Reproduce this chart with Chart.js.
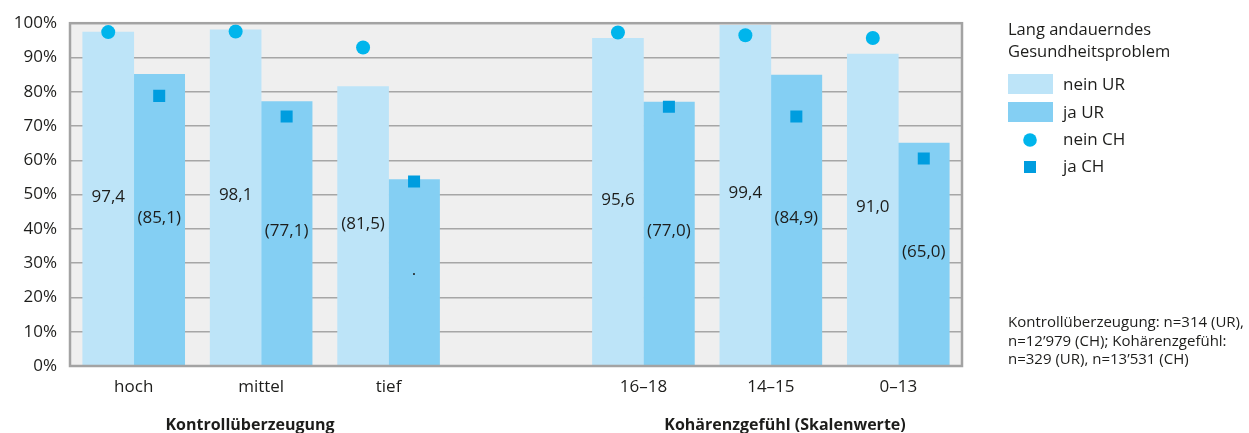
<!DOCTYPE html>
<html>
<head>
<meta charset="utf-8">
<script src="https://cdn.jsdelivr.net/npm/chart.js@4.4.1/dist/chart.umd.min.js"></script>
<style>
  html, body { margin: 0; padding: 0; background: #fff; }
  #wrap { width: 1249px; height: 433px; position: relative; }
</style>
</head>
<body>
<div id="wrap"><canvas id="c"></canvas></div>
<script>
// Categories: two groups separated by an empty slot
const categories = ['hoch', 'mittel', 'tief', '', '16–18', '14–15', '0–13'];

// Bars (UR) and reference markers (CH), in percent
const neinUR = [97.4, 98.1, 81.5, null, 95.6, 99.4, 91.0];
const jaUR   = [85.1, 77.1, 54.4, null, 77.0, 84.9, 65.0];
const neinCH = [97.4, 97.6, 92.9, null, 97.3, 96.5, 95.7];
const jaCH   = [78.8, 72.8, 53.8, null, 75.6, 72.8, 60.5];

// Value labels printed inside the bars
const neinURLabels = ['97,4', '98,1', '(81,5)', '', '95,6', '99,4', '91,0'];
const jaURLabels   = ['(85,1)', '(77,1)', '.', '', '(77,0)', '(84,9)', '(65,0)'];

// Axis ticks
const yTicks = [0, 10, 20, 30, 40, 50, 60, 70, 80, 90, 100];

// Texts
const seriesNames = ['nein UR', 'ja UR', 'nein CH', 'ja CH'];
const legendTitle = ['Lang andauerndes', 'Gesundheitsproblem'];
const groupTitles = ['Kontrollüberzeugung', 'Kohärenzgefühl (Skalenwerte)'];
const noteLines = [
  'Kontrollüberzeugung: n=314 (UR),',
  'n=12’979 (CH); Kohärenzgefühl:',
  'n=329 (UR), n=13’531 (CH)'
];

const FONT = "'Open Sans', 'Noto Sans', sans-serif";
const TEXT = '#1d1d1b';
const colors = {
  neinUR: '#bde4f8',
  jaUR: '#84cff3',
  neinCH: '#00b5ec',
  jaCH: '#009ddf'
};

// "nein" sits on the left half of each category, "ja" on the right half
const SHIFT = 0.2;
const toPoints = (arr, shift) => arr.map((v, i) => ({ x: i + shift, y: v }));

const chartDecor = {
  id: 'chartDecor',
  beforeDraw(chart) {
    const { ctx, chartArea: a } = chart;
    ctx.save();
    ctx.fillStyle = '#efefef';
    ctx.fillRect(a.left, a.top, a.right - a.left, a.bottom - a.top);
    ctx.restore();
  },
  afterDatasetsDraw(chart) {
    const { ctx, chartArea: a } = chart;
    ctx.save();

    // plot frame
    ctx.strokeStyle = '#a3a3a3';
    ctx.lineWidth = 2.5;
    ctx.strokeRect(a.left, a.top, a.right - a.left, a.bottom - a.top);

    // value labels, centred in each bar
    ctx.fillStyle = TEXT;
    ctx.font = '17px ' + FONT;
    ctx.textAlign = 'center';
    ctx.textBaseline = 'middle';
    [[0, neinURLabels], [1, jaURLabels]].forEach(([di, labels]) => {
      const meta = chart.getDatasetMeta(di);
      meta.data.forEach((el, i) => {
        if (!labels[i]) return;
        ctx.fillText(labels[i], el.x, (el.y + el.base) / 2 - 2);
      });
    });

    // group titles under the category axis
    ctx.font = 'bold 16px ' + FONT;
    ctx.textBaseline = 'alphabetic';
    ctx.fillText(groupTitles[0], 250, 430);
    ctx.fillText(groupTitles[1], 785, 430);

    // legend
    const lx = 1008;
    ctx.textAlign = 'left';
    ctx.font = '16.5px ' + FONT;
    ctx.fillText(legendTitle[0], lx, 35);
    ctx.fillText(legendTitle[1], lx, 56.5);

    ctx.font = '17px ' + FONT;
    ctx.textBaseline = 'middle';
    const ds = chart.data.datasets;
    ctx.fillStyle = ds[0].backgroundColor;
    ctx.fillRect(lx, 74, 45, 20);
    ctx.fillStyle = ds[1].backgroundColor;
    ctx.fillRect(lx, 102, 45, 20);
    ctx.fillStyle = ds[2].backgroundColor;
    ctx.beginPath();
    ctx.arc(lx + 22, 140, 6.8, 0, Math.PI * 2);
    ctx.fill();
    ctx.fillStyle = ds[3].backgroundColor;
    ctx.fillRect(lx + 16, 161, 12, 12);

    ctx.fillStyle = TEXT;
    ctx.fillText(ds[0].label, 1063, 85);
    ctx.fillText(ds[1].label, 1063, 113);
    ctx.fillText(ds[2].label, 1063, 140);
    ctx.fillText(ds[3].label, 1063, 167.5);

    // sample-size note
    ctx.font = '15px ' + FONT;
    noteLines.forEach((t, i) => ctx.fillText(t, lx, 323 + i * 18.5));

    ctx.restore();
  }
};

new Chart(document.getElementById('c'), {
  data: {
    labels: categories,
    datasets: [
      {
        type: 'bar', label: seriesNames[0], data: toPoints(neinUR, -SHIFT),
        backgroundColor: colors.neinUR, borderWidth: 0, grouped: false,
        barPercentage: 1.0, categoryPercentage: 1.0, order: 2,
        xAxisID: 'xm', yAxisID: 'y'
      },
      {
        type: 'bar', label: seriesNames[1], data: toPoints(jaUR, SHIFT),
        backgroundColor: colors.jaUR, borderWidth: 0, grouped: false,
        barPercentage: 1.0, categoryPercentage: 1.0, order: 2,
        xAxisID: 'xm', yAxisID: 'y'
      },
      {
        type: 'scatter', label: seriesNames[2], data: toPoints(neinCH, -SHIFT),
        backgroundColor: colors.neinCH, borderWidth: 0, grouped: false,
        pointStyle: 'circle', pointRadius: 7, pointHoverRadius: 7, order: 1,
        xAxisID: 'xm', yAxisID: 'y'
      },
      {
        type: 'scatter', label: seriesNames[3], data: toPoints(jaCH, SHIFT),
        backgroundColor: colors.jaCH, borderWidth: 0, grouped: false,
        pointStyle: 'rect', pointRadius: 8.5, pointHoverRadius: 8.5, order: 1,
        xAxisID: 'xm', yAxisID: 'y'
      }
    ]
  },
  options: {
    responsive: true,
    maintainAspectRatio: false,
    animation: false,
    events: [],
    layout: { padding: { top: 22, right: 287, left: 0, bottom: 0 } },
    plugins: {
      legend: { display: false },
      tooltip: { enabled: false }
    },
    scales: {
      // visible category axis carrying the labels
      x: {
        type: 'category',
        labels: categories,
        offset: true,
        grid: { display: false, drawTicks: false },
        border: { display: false },
        ticks: { color: TEXT, font: { family: FONT, size: 17 }, padding: 11, maxRotation: 0, autoSkip: false },
        afterFit(s) { s.height = 67; }
      },
      // hidden numeric axis spanning the same categories, used to place bars and markers
      xm: {
        type: 'linear',
        axis: 'x',
        position: 'bottom',
        display: false,
        offset: false,
        min: -0.5,
        max: categories.length - 0.5,
        afterBuildTicks(s) { s.ticks = categories.map((c, i) => ({ value: i })); }
      },
      y: {
        type: 'linear',
        min: yTicks[0],
        max: yTicks[yTicks.length - 1],
        afterBuildTicks(s) { s.ticks = yTicks.map(v => ({ value: v })); },
        grid: {
          drawTicks: false,
          color: ctx => (ctx.tick && (ctx.tick.value === 0 || ctx.tick.value === 100)) ? 'rgba(0,0,0,0)' : '#a6a6a6',
          lineWidth: 1.5
        },
        border: { display: false },
        ticks: {
          color: TEXT,
          font: { family: FONT, size: 17 },
          padding: 13,
          callback: v => v + '%'
        },
        afterFit(s) { s.width = 70; }
      }
    }
  },
  plugins: [chartDecor]
});
</script>
</body>
</html>
